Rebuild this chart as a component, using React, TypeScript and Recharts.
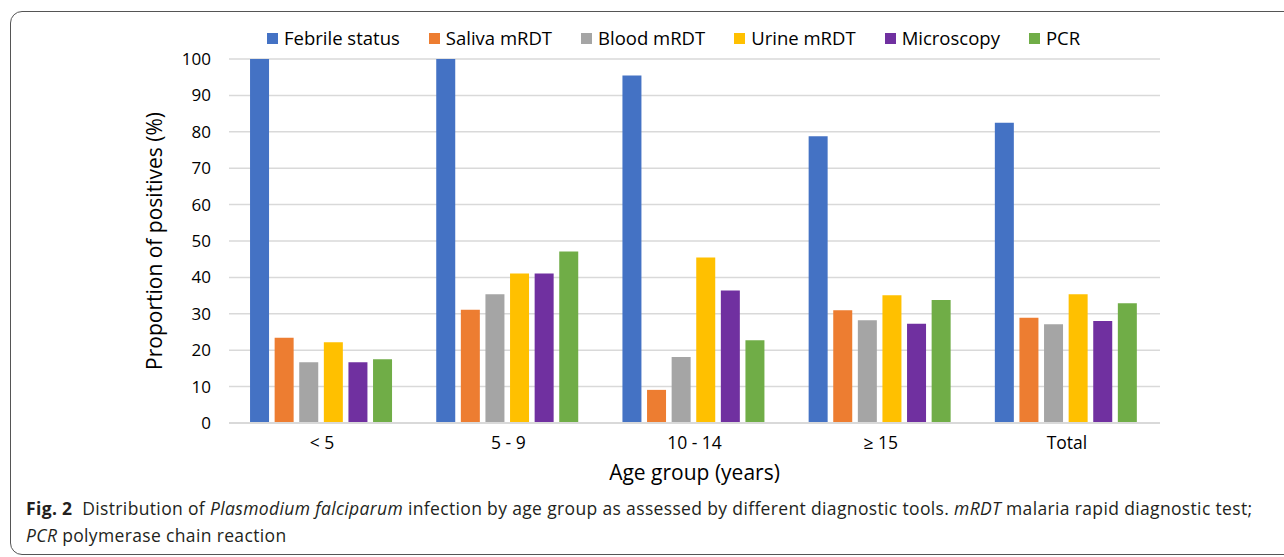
import { BarChart, Bar, XAxis, YAxis, CartesianGrid, Label } from 'recharts';

const ageGroups = ['< 5', '5 - 9', '10 - 14', '≥ 15', 'Total'];
const febrile = [100, 100, 95.5, 78.8, 82.5];
const saliva = [23.4, 31.1, 9.1, 31.0, 28.9];
const blood = [16.7, 35.4, 18.1, 28.2, 27.1];
const urine = [22.2, 41.1, 45.5, 35.1, 35.4];
const microscopy = [16.7, 41.1, 36.4, 27.3, 28.0];
const pcr = [17.5, 47.1, 22.7, 33.8, 32.9];
const yTicks = [0, 10, 20, 30, 40, 50, 60, 70, 80, 90, 100];

const series = [
  { key: 'febrile', name: 'Febrile status', color: '#4472C4' },
  { key: 'saliva', name: 'Saliva mRDT', color: '#ED7D31' },
  { key: 'blood', name: 'Blood mRDT', color: '#A5A5A5' },
  { key: 'urine', name: 'Urine mRDT', color: '#FFC000' },
  { key: 'microscopy', name: 'Microscopy', color: '#7030A0' },
  { key: 'pcr', name: 'PCR', color: '#70AD47' },
];

const data = ageGroups.map((group, i) => ({
  group,
  febrile: febrile[i],
  saliva: saliva[i],
  blood: blood[i],
  urine: urine[i],
  microscopy: microscopy[i],
  pcr: pcr[i],
}));

const font = '"Open Sans", sans-serif';

export default function App() {
  return (
    <div style={{ position: 'absolute', left: 0, top: 0, width: 1284, height: 557, background: '#fff', overflow: 'hidden' }}>
      {/* rounded frame that runs off the right edge */}
      <div
        style={{
          position: 'absolute',
          left: 10,
          top: 11,
          width: 1300,
          height: 544,
          border: '1.5px solid #555',
          borderRadius: 12,
          boxSizing: 'border-box',
        }}
      />
      {/* legend, one row across the top */}
      <div
        style={{
          position: 'absolute',
          top: 26,
          left: 267,
          display: 'flex',
          gap: 29,
          fontFamily: font,
          fontSize: 18.5,
          lineHeight: '24px',
          color: '#000',
          whiteSpace: 'nowrap',
        }}
      >
        {series.map((s) => (
          <div key={s.key} style={{ display: 'flex', alignItems: 'center' }}>
            <span style={{ width: 11, height: 11, background: s.color, display: 'inline-block', marginRight: 6 }} />
            <span>{s.name}</span>
          </div>
        ))}
      </div>
      <BarChart
        width={1284}
        height={557}
        data={data}
        margin={{ top: 59, right: 124, left: 159, bottom: 104 }}
        barCategoryGap="11.3%"
        barGap={5.6}
        style={{ position: 'absolute', left: 0, top: 0 }}
      >
        <CartesianGrid horizontal={true} vertical={false} stroke="#d9d9d9" strokeWidth={1.5} />
        <XAxis
          dataKey="group"
          tickLine={false}
          axisLine={{ stroke: '#d9d9d9', strokeWidth: 2 }}
          tick={{ fill: '#000', fontSize: 17.5, fontFamily: font }}
          tickMargin={8}
          height={30}
        />
        <YAxis
          domain={[0, 100]}
          ticks={yTicks}
          tickLine={false}
          axisLine={false}
          tick={{ fill: '#000', fontSize: 17, fontFamily: font }}
          tickMargin={12}
          width={70}
        >
          <Label
            value="Proportion of positives (%)"
            angle={-90}
            position="insideLeft"
            offset={0}
            dx={-4}
            style={{ fill: '#000', fontSize: 21, fontFamily: font, textAnchor: 'middle' }}
          />
        </YAxis>
        {series.map((s) => (
          <Bar key={s.key} dataKey={s.key} name={s.name} fill={s.color} isAnimationActive={false} />
        ))}
      </BarChart>
      <div
        style={{
          position: 'absolute',
          top: 458,
          left: 229,
          width: 931,
          textAlign: 'center',
          fontFamily: font,
          fontSize: 21,
          lineHeight: '28px',
          color: '#000',
        }}
      >
        Age group (years)
      </div>
      <div
        style={{
          position: 'absolute',
          top: 495,
          left: 26,
          fontFamily: font,
          fontSize: 17.5,
          color: '#231f20',
          lineHeight: '27px',
          whiteSpace: 'nowrap',
          letterSpacing: 0.35,
        }}
      >
        <div>
          <b>Fig. 2</b>&nbsp;&nbsp;Distribution of <i>Plasmodium falciparum</i> infection by age group as assessed by different
          diagnostic tools. <i>mRDT</i> malaria rapid diagnostic test;
        </div>
        <div>
          <i>PCR</i> polymerase chain reaction
        </div>
      </div>
    </div>
  );
}
